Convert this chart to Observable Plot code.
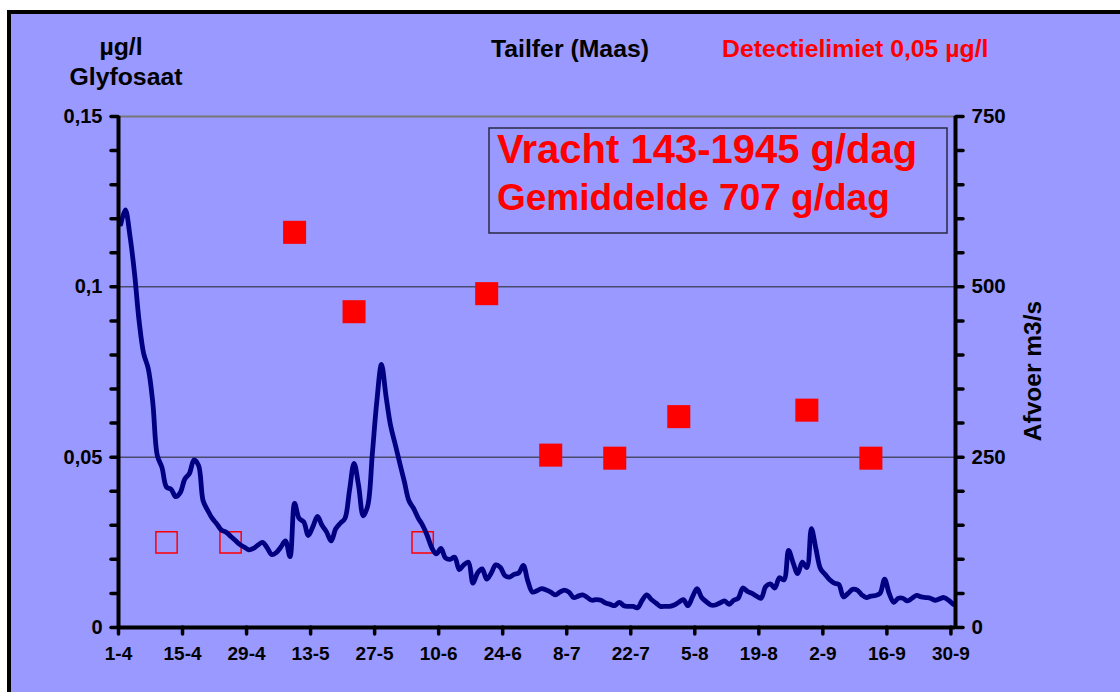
<!DOCTYPE html>
<html><head><meta charset="utf-8">
<script src="https://cdn.jsdelivr.net/npm/d3@7"></script>
<script src="https://cdn.jsdelivr.net/npm/@observablehq/plot@0.6"></script>
<style>
html,body{margin:0;padding:0;background:#fff;overflow:hidden;width:1120px;height:692px;}
#frame{position:absolute;left:7px;top:10px;width:1200px;height:800px;background:#9999ff;border-left:4px solid #000;border-top:4px solid #000;}
#chart{position:absolute;left:0;top:0;}
</style></head><body>
<div id="frame"></div><div id="chart"></div>
<script>
// ---- data ----
const startDate = "2003-04-01";
const endDate = "2003-10-01";
// daily discharge (m3/s), Tailfer (Maas), 1-4 .. 30-9
const flow = [
  592,613,575,520,450,402,380,330,252,235,
  206,203,192,198,218,226,246,238,186,172,
  160,152,143,140,134,128,122,118,114,116,
  121,125,117,107,110,118,127,104,182,160,
  155,135,148,163,150,140,127,145,153,160,
  201,241,208,164,179,255,333,386,339,296,
  269,241,214,186,175,161,150,135,117,108,
  116,102,100,103,85,92,96,65,80,86,
  71,80,92,88,76,74,78,80,91,68,
  52,54,57,55,52,48,52,55,52,44,
  46,48,44,40,41,40,36,34,32,37,
  32,31,31,29,40,48,41,36,31,31,
  31,33,37,41,32,45,57,44,38,33,
  33,36,39,34,40,43,58,53,50,46,
  43,60,64,58,73,70,113,95,79,96,
  88,145,115,86,78,70,65,63,45,50,
  56,55,48,44,46,47,50,71,50,37,
  43,43,39,43,47,45,44,43,40,42,
  44,40,34
];
// glyfosaat measurements above detection limit (µg/l)
const glyfDates = ["2003-05-09","2003-05-22","2003-06-20","2003-07-04","2003-07-18","2003-08-01","2003-08-29","2003-09-12"];
const glyfValues = [0.116,0.0927,0.098,0.0506,0.0497,0.0619,0.0638,0.0497];
// below detection limit (plotted at half the limit)
const belowDates = ["2003-04-11","2003-04-25","2003-06-06"];
const belowValues = [0.025,0.025,0.025];

const xTickDates = ["2003-04-01","2003-04-15","2003-04-29","2003-05-13","2003-05-27","2003-06-10","2003-06-24","2003-07-08","2003-07-22","2003-08-05","2003-08-19","2003-09-02","2003-09-16","2003-09-30"];
const xTickLabels = ["1-4","15-4","29-4","13-5","27-5","10-6","24-6","8-7","22-7","5-8","19-8","2-9","16-9","30-9"];
const leftTickValues = [0,0.05,0.1,0.15];
const leftTickLabels = ["0","0,05","0,1","0,15"];
const rightTickValues = [0,250,500,750];
const rightTickLabels = ["0","250","500","750"];
const glyfMax = 0.15, flowMax = 750;

// ---- build tables ----
const utc = s => new Date(s + "T00:00:00Z");
const noon = s => new Date(s + "T12:00:00Z");
const DAY = 86400000;
const t0 = utc(startDate).getTime();
const flowData = flow.map((q, i) => ({date: new Date(t0 + i * DAY + DAY / 2), y: q * glyfMax / flowMax}));
const glyfData = glyfDates.map((d, i) => ({date: noon(d), y: glyfValues[i]}));
const belowData = belowDates.map((d, i) => ({date: noon(d), y: belowValues[i]}));
const xTicks = xTickDates.map(utc);
const xLabelMap = new Map(xTicks.map((d, i) => [d.getTime(), xTickLabels[i]]));
const minorTicks = d3.range(16).map(i => i / 100);
const leftFmt = v => { const k = leftTickValues.findIndex(t => Math.abs(t - v) < 1e-9); return k < 0 ? "" : leftTickLabels[k]; };
const rightFmt = v => { const q = v * flowMax / glyfMax; const k = rightTickValues.findIndex(t => Math.abs(t - q) < 1e-6); return k < 0 ? "" : rightTickLabels[k]; };

const chart = Plot.plot({
  width: 1120, height: 692,
  marginLeft: 118, marginRight: 165, marginTop: 116, marginBottom: 65,
  style: {background: "transparent", fontFamily: "'Liberation Sans', Arial, sans-serif", fontWeight: "bold", color: "#000", overflow: "visible"},
  x: {type: "utc", domain: [utc(startDate), utc(endDate)]},
  y: {domain: [0, glyfMax]},
  marks: [
    Plot.ruleY([0.05, 0.1], {stroke: "#4a4a6e", strokeWidth: 1.5}),
    Plot.ruleY([0.15], {stroke: "#777", strokeWidth: 2}),
    Plot.dot(belowData, {x: "date", y: "y", symbol: "square", r: 12, fill: "none", stroke: "#ff0000", strokeWidth: 1.5}),
    Plot.dot(glyfData, {x: "date", y: "y", symbol: "square", r: 13, fill: "#ff0000", stroke: "none"}),
    Plot.line(flowData, {x: "date", y: "y", stroke: "#000080", strokeWidth: 4.8, curve: "catmull-rom", strokeLinejoin: "round", strokeLinecap: "round"}),
    Plot.axisY(minorTicks, {anchor: "left", tickSize: 7, tickPadding: 9, strokeWidth: 3.5, strokeLinecap: "round", tickFormat: leftFmt, fontSize: 20, label: null}),
    Plot.axisY(minorTicks, {anchor: "right", tickSize: 7, tickPadding: 9, strokeWidth: 3.5, strokeLinecap: "round", tickFormat: rightFmt, fontSize: 20.5, label: null}),
    Plot.axisX(xTicks, {anchor: "bottom", tickSize: 7, tickPadding: 12, strokeWidth: 3.5, strokeLinecap: "round", tickFormat: d => xLabelMap.get(d.getTime()), fontSize: 19, label: null}),
    Plot.ruleX([utc(startDate)], {stroke: "#000", strokeWidth: 4}),
    Plot.ruleX([utc(endDate)], {stroke: "#000", strokeWidth: 4}),
    Plot.ruleY([0], {stroke: "#000", strokeWidth: 4})
  ]
});
document.getElementById("chart").appendChild(chart);

// ---- annotations ----
const svg = d3.select(chart);
const g = svg.append("g").attr("font-family", "'Liberation Sans', Arial, sans-serif").attr("font-weight", "bold");
g.append("text").attr("x", 121).attr("y", 55).attr("text-anchor", "middle").attr("font-size", 24.8).attr("fill", "#000").text("µg/l");
g.append("text").attr("x", 126).attr("y", 85).attr("text-anchor", "middle").attr("font-size", 24.8).attr("fill", "#000").text("Glyfosaat");
g.append("text").attr("x", 570).attr("y", 57).attr("text-anchor", "middle").attr("font-size", 24.8).attr("fill", "#000").text("Tailfer (Maas)");
g.append("text").attr("x", 722).attr("y", 57).attr("text-anchor", "start").attr("font-size", 24.8).attr("fill", "#ff0000").text("Detectielimiet 0,05 µg/l");
g.append("text").attr("transform", "translate(1041,371) rotate(-90)").attr("text-anchor", "middle").attr("font-size", 24.5).attr("fill", "#000").text("Afvoer m3/s");
g.append("rect").attr("x", 489).attr("y", 128).attr("width", 458).attr("height", 105).attr("fill", "none").attr("stroke", "#2a2a44").attr("stroke-width", 1.5);
g.append("text").attr("x", 497).attr("y", 163).attr("text-anchor", "start").attr("font-size", 40).attr("fill", "#ff0000").text("Vracht 143-1945 g/dag");
g.append("text").attr("x", 497).attr("y", 210).attr("text-anchor", "start").attr("font-size", 37).attr("fill", "#ff0000").text("Gemiddelde 707 g/dag");
</script>
</body></html>
